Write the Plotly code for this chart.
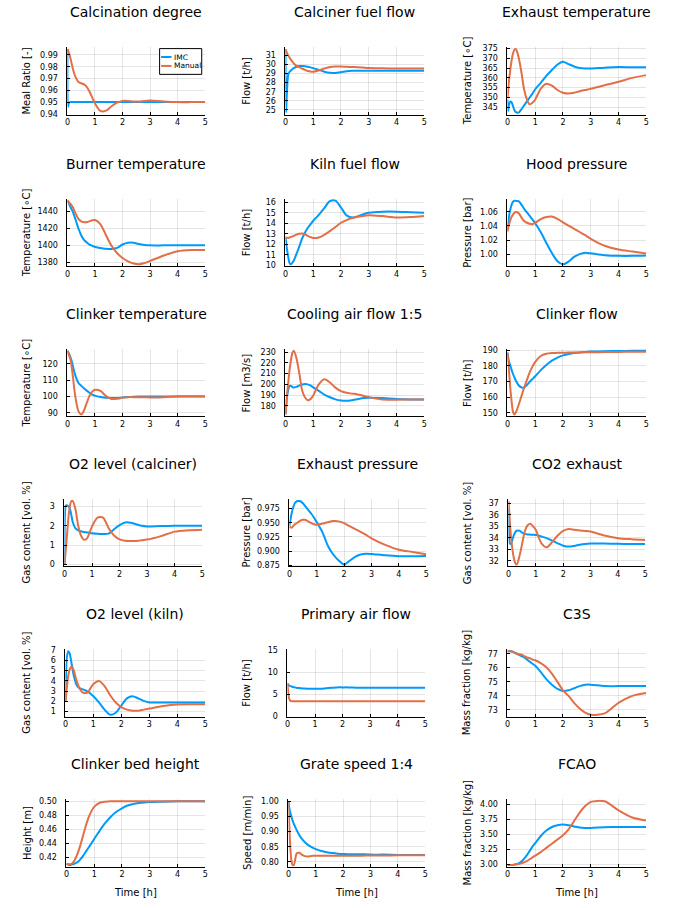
import plotly.graph_objects as go

W, H = 678, 908

# ---------------- data ----------------
T = [0, 0.02, 0.05, 0.1, 0.15, 0.2, 0.25, 0.3, 0.4, 0.5, 0.6, 0.7, 0.8, 0.9, 1.0,
     1.2, 1.4, 1.6, 1.8, 2.0, 2.2, 2.4, 2.6, 2.8, 3.0, 3.5, 4.0, 4.5, 5.0]

titles = ["Calcination degree", "Calciner fuel flow", "Exhaust temperature",
          "Burner temperature", "Kiln fuel flow", "Hood pressure",
          "Clinker temperature", "Cooling air flow 1:5", "Clinker flow",
          "O2 level (calciner)", "Exhaust pressure", "CO2 exhaust",
          "O2 level (kiln)", "Primary air flow", "C3S",
          "Clinker bed height", "Grate speed 1:4", "FCAO"]

ylabels = ["Meal Ratio [-]", "Flow [t/h]", "Temperature [∘C]",
           "Temperature [∘C]", "Flow [t/h]", "Pressure [bar]",
           "Temperature [∘C]", "Flow [m3/s]", "Flow [t/h]",
           "Gas content [vol. %]", "Pressure [bar]", "Gas content [vol. %]",
           "Gas content [vol. %]", "Flow [t/h]", "Mass fraction [kg/kg]",
           "Height [m]", "Speed [m/min]", "Mass fraction [kg/kg]"]

series_names = ["IMC", "Manual"]

calc_imc = [0.995, 0.9460, 0.9490, 0.950, 0.950, 0.950, 0.950, 0.950, 0.950, 0.950, 0.950, 0.950,
            0.950, 0.950, 0.950, 0.950, 0.950, 0.950, 0.950, 0.950, 0.950, 0.950, 0.950, 0.950,
            0.950, 0.950, 0.950, 0.950, 0.950]
calc_man = [0.995, 0.994, 0.992, 0.988, 0.983, 0.978, 0.974, 0.971, 0.967, 0.966, 0.965, 0.963,
            0.959, 0.954, 0.949, 0.9425, 0.9428, 0.9465, 0.9495, 0.951, 0.951, 0.9505, 0.9505,
            0.951, 0.9513, 0.9505, 0.950, 0.950, 0.950]

cfuel_imc = [31.7, 24.7, 26.8, 28.9, 29.2, 29.35, 29.5, 29.6, 29.75, 29.82, 29.83, 29.8, 29.75,
             29.68, 29.6, 29.4, 29.2, 29.08, 29.07, 29.15, 29.25, 29.3, 29.3, 29.3, 29.3, 29.3,
             29.3, 29.3, 29.3]
cfuel_man = [31.65, 31.5, 31.3, 31.0, 30.75, 30.5, 30.3, 30.1, 29.85, 29.7, 29.55, 29.4, 29.28,
             29.22, 29.2, 29.35, 29.55, 29.72, 29.78, 29.77, 29.74, 29.72, 29.7, 29.66, 29.62,
             29.58, 29.55, 29.55, 29.55]

extemp_imc = [349, 343, 346, 348, 347.5, 345.5, 343.5, 342.5, 342.3, 344, 346, 348, 350, 352,
              354.2, 357.5, 361, 364, 366.8, 368.2, 367, 365.8, 365, 364.8, 364.8, 365.2,
              365.5, 365.4, 365.4]
extemp_man = [349.5, 353, 358, 364, 369, 372.5, 374.3, 374.7, 370.5, 363, 354, 349, 346.5,
              347.3, 349, 354.5, 357, 356, 353.8, 352.4, 352, 352.4, 353.2, 353.8, 354.4,
              356.2, 358, 360, 361.4]

burner_imc = [1453, 1452, 1450, 1446, 1443, 1439.5, 1435, 1430, 1420, 1412, 1406.5, 1403.5,
              1401, 1399.5, 1398, 1397, 1396, 1395.8, 1397, 1401, 1403.2, 1403.2, 1401.5,
              1400.5, 1400, 1400, 1400, 1400, 1400]
burner_man = [1453, 1452.5, 1451.5, 1449.5, 1447.5, 1445, 1441, 1437.5, 1431.5, 1428.5,
              1427.5, 1427.5, 1428.5, 1429.8, 1430, 1425, 1412, 1399.5, 1391, 1385, 1381,
              1378.5, 1377.6, 1379, 1381.5, 1388, 1393, 1394.5, 1394.5]

kfuel_imc = [12.7, 12.3, 11.6, 10.8, 10.2, 10.1, 10.25, 10.45, 11.1, 11.8, 12.55, 13.1, 13.55,
             13.9, 14.24, 14.8, 15.45, 16.1, 16.15, 15.5, 14.75, 14.56, 14.65, 14.85, 15.0,
             15.1, 15.1, 15.05, 15.0]
kfuel_man = [12.65, 12.63, 12.62, 12.6, 12.65, 12.7, 12.75, 12.8, 12.92, 13.0, 13.03, 12.95,
             12.8, 12.68, 12.6, 12.65, 12.9, 13.25, 13.65, 14.05, 14.3, 14.5, 14.62, 14.7,
             14.76, 14.68, 14.56, 14.6, 14.7]

hood_imc = [1.034, 1.042, 1.052, 1.063, 1.070, 1.074, 1.0755, 1.0752, 1.0748, 1.070, 1.064,
            1.059, 1.054, 1.049, 1.0438, 1.031, 1.016, 1.002, 0.9905, 0.9862, 0.990, 0.9965,
            1.0005, 1.0023, 1.0015, 0.999, 0.998, 0.998, 0.9986]
hood_man = [1.032, 1.036, 1.041, 1.048, 1.053, 1.056, 1.0585, 1.0595, 1.058, 1.052, 1.047,
            1.0445, 1.043, 1.0425, 1.0445, 1.0495, 1.0525, 1.0532, 1.050, 1.045, 1.0405,
            1.036, 1.0315, 1.027, 1.022, 1.0122, 1.0068, 1.004, 1.0014]

ctemp_imc = [128, 127.5, 126.5, 124.5, 122, 118.5, 115, 112.2, 108.3, 106.6, 105, 103.6,
             102.3, 101.2, 100.5, 99.7, 99.2, 99.0, 99.1, 99.4, 99.7, 99.9, 100, 100, 100,
             100, 100, 100, 100]
ctemp_man = [128, 127, 125.5, 123.5, 118.5, 112, 104.5, 98.5, 91, 89, 91.4, 96, 100.4, 103,
             104.1, 103.4, 100.2, 98.5, 98.6, 99.3, 99.6, 99.6, 99.6, 99.5, 99.4, 99.5, 100.1,
             100.2, 100.2]

cool_imc = [172, 178, 187, 195, 198.5, 198.5, 197.5, 197, 197.8, 199, 199.8, 200.3, 200, 199,
            197.3, 194, 190.5, 188, 186, 184.9, 184.7, 185.3, 186.2, 187.2, 187.5, 187.2,
            186.3, 186, 186]
cool_man = [172, 178, 188, 202, 214, 223, 229.5, 231.3, 224, 210, 194.5, 188, 185.3, 186.3,
            189.7, 200, 204.7, 201.8, 197, 193.8, 192.2, 191.4, 190.6, 189.4, 188.2, 185.8,
            185.8, 186, 186]

cflow_imc = [188.5, 186, 183, 180.3, 177.3, 174.8, 172.6, 170.6, 167.6, 166.3, 166.1, 167.8,
             169.8, 171.6, 173.4, 177.3, 180.6, 183.3, 185.3, 186.7, 187.6, 188.2, 188.6,
             188.9, 189.1, 189.4, 189.5, 189.6, 189.6]
cflow_man = [188.5, 184, 178, 166, 157, 150.5, 149, 150.2, 155, 160.5, 166, 171, 175.8, 179.5,
             182.5, 186.3, 187.7, 188.2, 188.3, 188.4, 188.5, 188.6, 188.6, 188.7, 188.7,
             188.8, 188.9, 189, 189]

o2c_imc = [0, 2.6, 3.05, 3.05, 3.0, 2.88, 2.55, 2.2, 1.87, 1.77, 1.72, 1.68, 1.66, 1.64, 1.62,
           1.59, 1.58, 1.6, 1.82, 2.04, 2.17, 2.16, 2.08, 2.0, 1.97, 1.99, 2.0, 2.0, 2.0]
o2c_man = [0, 0.3, 0.8, 1.65, 2.5, 3.05, 3.28, 3.28, 2.85, 2.0, 1.5, 1.29, 1.32, 1.6, 1.97,
           2.42, 2.42, 1.89, 1.5, 1.3, 1.23, 1.22, 1.22, 1.25, 1.29, 1.47, 1.7, 1.77, 1.8]

expr_imc = [0.945, 0.951, 0.959, 0.971, 0.979, 0.985, 0.9875, 0.9885, 0.988, 0.984, 0.978,
            0.972, 0.966, 0.959, 0.951, 0.934, 0.910, 0.894, 0.8835, 0.8762, 0.883, 0.890,
            0.894, 0.8955, 0.895, 0.8925, 0.891, 0.891, 0.8915]
expr_man = [0.944, 0.943, 0.9415, 0.942, 0.945, 0.9475, 0.949, 0.9505, 0.954, 0.9553, 0.955,
            0.952, 0.9495, 0.9475, 0.9465, 0.9485, 0.951, 0.953, 0.9525, 0.9495, 0.944,
            0.939, 0.934, 0.9285, 0.9225, 0.911, 0.9025, 0.8985, 0.8945]

co2_imc = [36.5, 34.5, 33.5, 33.5, 33.9, 34.25, 34.5, 34.62, 34.63, 34.45, 34.35, 34.3, 34.28,
           34.27, 34.25, 34.12, 33.98, 33.75, 33.52, 33.32, 33.24, 33.3, 33.4, 33.47, 33.5,
           33.5, 33.48, 33.47, 33.47]
co2_man = [37.2, 36.6, 35.4, 33.9, 32.9, 32.2, 31.8, 31.68, 32.4, 33.5, 34.6, 35.1, 35.22,
           35.0, 34.68, 33.55, 33.18, 33.65, 34.2, 34.6, 34.76, 34.7, 34.63, 34.6, 34.55,
           34.2, 33.97, 33.88, 33.82]

o2k_imc = [2.0, 4.5, 6.3, 6.9, 6.7, 6.0, 5.2, 4.5, 3.6, 3.3, 3.2, 3.1, 2.95, 2.75, 2.5, 1.9,
           1.2, 0.7, 0.9, 1.6, 2.3, 2.5, 2.3, 2.05, 1.9, 1.9, 1.9, 1.9, 1.9]
o2k_man = [2.0, 2.5, 3.3, 4.5, 5.1, 5.35, 5.3, 5.0, 4.0, 3.3, 2.9, 2.8, 2.9, 3.3, 3.7, 4.0,
           3.5, 2.6, 1.9, 1.45, 1.2, 1.1, 1.1, 1.2, 1.3, 1.55, 1.7, 1.72, 1.72]

pair_imc = [7.5, 7.3, 7.1, 6.9, 6.8, 6.7, 6.6, 6.55, 6.45, 6.4, 6.35, 6.3, 6.3, 6.28, 6.27,
            6.3, 6.4, 6.5, 6.6, 6.6, 6.6, 6.55, 6.5, 6.5, 6.5, 6.5, 6.5, 6.5, 6.5]
pair_man = [7.5, 6.0, 4.3, 3.6, 3.5, 3.5, 3.5, 3.5, 3.5, 3.5, 3.5, 3.5, 3.5, 3.5, 3.5, 3.5,
            3.5, 3.5, 3.5, 3.5, 3.5, 3.5, 3.5, 3.5, 3.5, 3.5, 3.5, 3.5, 3.5]

c3s_imc = [77.2, 77.2, 77.2, 77.2, 77.18, 77.15, 77.1, 77.05, 76.95, 76.85, 76.75, 76.6,
           76.45, 76.3, 76.15, 75.7, 75.2, 74.8, 74.5, 74.35, 74.4, 74.55, 74.7, 74.8, 74.8,
           74.7, 74.7, 74.7, 74.7]
c3s_man = [77.2, 77.2, 77.2, 77.2, 77.2, 77.15, 77.1, 77.05, 77.0, 76.95, 76.85, 76.75, 76.7,
           76.6, 76.55, 76.35, 76.05, 75.6, 75.0, 74.4, 74.0, 73.5, 73.1, 72.8, 72.65, 72.75,
           73.5, 74.0, 74.2]

bed_imc = [0.411, 0.410, 0.410, 0.409, 0.409, 0.410, 0.410, 0.411, 0.413, 0.417, 0.422,
           0.428, 0.434, 0.440, 0.446, 0.458, 0.469, 0.478, 0.485, 0.490, 0.494, 0.496,
           0.4975, 0.4985, 0.499, 0.4995, 0.500, 0.500, 0.500]
bed_man = [0.411, 0.410, 0.410, 0.410, 0.410, 0.411, 0.413, 0.416, 0.425, 0.437, 0.451,
           0.465, 0.477, 0.486, 0.492, 0.498, 0.4995, 0.500, 0.500, 0.500, 0.500, 0.500,
           0.500, 0.500, 0.500, 0.500, 0.500, 0.500, 0.500]

grate_imc = [1.0, 0.985, 0.97, 0.952, 0.937, 0.925, 0.915, 0.905, 0.888, 0.875, 0.865, 0.857,
             0.851, 0.846, 0.842, 0.836, 0.832, 0.829, 0.827, 0.826, 0.825, 0.825, 0.825,
             0.825, 0.824, 0.824, 0.823, 0.823, 0.823]
grate_man = [1.0, 0.95, 0.88, 0.81, 0.79, 0.79, 0.81, 0.828, 0.83, 0.823, 0.819, 0.818,
             0.819, 0.82, 0.82, 0.82, 0.82, 0.82, 0.82, 0.82, 0.82, 0.82, 0.82, 0.821, 0.821,
             0.821, 0.822, 0.822, 0.822]

fcao_imc = [2.985, 2.985, 2.985, 2.985, 2.985, 2.985, 2.99, 2.995, 3.01, 3.04, 3.09, 3.15,
            3.22, 3.29, 3.35, 3.47, 3.56, 3.62, 3.65, 3.66, 3.65, 3.63, 3.61, 3.605, 3.605,
            3.615, 3.62, 3.62, 3.62]
fcao_man = [2.985, 2.985, 2.985, 2.985, 2.985, 2.985, 2.99, 2.995, 3.0, 3.01, 3.03, 3.05,
            3.08, 3.11, 3.14, 3.2, 3.27, 3.34, 3.41, 3.48, 3.58, 3.72, 3.86, 3.97, 4.04, 4.05,
            3.9, 3.78, 3.73]

imc_series = [calc_imc, cfuel_imc, extemp_imc, burner_imc, kfuel_imc, hood_imc,
              ctemp_imc, cool_imc, cflow_imc, o2c_imc, expr_imc, co2_imc,
              o2k_imc, pair_imc, c3s_imc, bed_imc, grate_imc, fcao_imc]
man_series = [calc_man, cfuel_man, extemp_man, burner_man, kfuel_man, hood_man,
              ctemp_man, cool_man, cflow_man, o2c_man, expr_man, co2_man,
              o2k_man, pair_man, c3s_man, bed_man, grate_man, fcao_man]

# y tick settings: (tick0, dtick, format)
yticks = [(0.94, 0.01, ".2f"), (25, 1, "d"), (345, 5, "d"),
          (1380, 20, "d"), (10, 1, "d"), (1.00, 0.02, ".2f"),
          (90, 10, "d"), (180, 10, "d"), (150, 10, "d"),
          (0, 1, "d"), (0.875, 0.025, ".3f"), (32, 1, "d"),
          (1, 1, "d"), (0, 5, "d"), (73, 1, "d"),
          (0.42, 0.02, ".2f"), (0.80, 0.05, ".2f"), (3.0, 0.25, ".2f")]
fixed_yrange = {0: [0.9395, 0.9966], 13: [0, 15.2]}
WIDEN = 0.03   # fraction of the data span added on each side

# ---------------- layout (pixels) ----------------
row_tops = [44.5, 197.5, 349, 500.5, 652, 803.5]
plot_h = 68
xpix = [[(65, 204), (285, 425), (509, 649)],
        [(65, 204), (285, 425), (509, 649)],
        [(65, 204), (285, 425), (509, 649)],
        [(62, 201), (289, 427), (510, 648)],
        [(63, 204), (287, 426), (509, 649)],
        [(64, 204), (288, 426), (509, 649)]]
ylabel_x = [24, 246, 468.5]

BLUE = "#009AFA"
ORANGE = "#E26F46"
COLORS = [BLUE, ORANGE]
FONT = "DejaVu Sans"

fig = go.Figure()
annotations = []
shapes = []
layout = {}

for i in range(18):
    r, c = divmod(i, 3)
    suffix = "" if i == 0 else str(i + 1)
    xref, yref = "x" + suffix, "y" + suffix
    x0, x1 = xpix[r][c]
    top = row_tops[r]
    bot = top + plot_h
    dom_x = [x0 / W, x1 / W]
    dom_y = [1 - bot / H, 1 - top / H]

    for name, data, col in ((series_names[0], imc_series[i], COLORS[0]),
                            (series_names[1], man_series[i], COLORS[1])):
        fig.add_trace(go.Scatter(
            x=T, y=data, mode="lines", name=name, xaxis=xref, yaxis=yref,
            line=dict(color=col, width=2, shape="spline", smoothing=0.8),
            showlegend=False, hoverinfo="skip"))

    allv = imc_series[i] + man_series[i]
    lo, hi = min(allv), max(allv)
    pad = WIDEN * (hi - lo)
    yr = fixed_yrange.get(i, [lo - pad, hi + pad])
    t0, dt, fmt = yticks[i]

    common = dict(showgrid=True, gridcolor="rgba(0,0,0,0.1)", gridwidth=1,
                  zeroline=False, showline=True, linecolor="black", linewidth=1,
                  ticks="inside", ticklen=3, tickwidth=1, tickcolor="black",
                  tickfont=dict(size=8, family=FONT, color="black"),
                  mirror=False)
    layout["xaxis" + suffix] = dict(domain=dom_x, anchor=yref, range=[0, 5],
                                    tick0=0, dtick=1, **common)
    layout["yaxis" + suffix] = dict(domain=dom_y, anchor=xref, range=yr,
                                    tick0=t0, dtick=dt, tickformat=fmt,
                                    ticklabelstandoff=7, **common)

    annotations.append(dict(text=titles[i], x=(x0 + x1) / 2 / W, y=1 - (top - 35.5) / H,
                            xref="paper", yref="paper", showarrow=False,
                            xanchor="center", yanchor="middle",
                            font=dict(size=14, family=FONT, color="black")))
    annotations.append(dict(text=ylabels[i], x=ylabel_x[c] / W, y=1 - (top + plot_h / 2) / H,
                            xref="paper", yref="paper", showarrow=False, textangle=-90,
                            xanchor="center", yanchor="middle",
                            font=dict(size=10, family=FONT, color="black")))
    if r == 5:
        annotations.append(dict(text="Time [h]", x=(x0 + x1) / 2 / W, y=1 - 897 / H,
                                xref="paper", yref="paper", showarrow=False,
                                xanchor="center", yanchor="middle",
                                font=dict(size=10, family=FONT, color="black")))

# legend box inside first panel (top right), drawn in paper space
lg_x0, lg_x1, lg_y0, lg_y1 = 158, 200.5, 46, 72
shapes.append(dict(type="rect", xref="paper", yref="paper",
                   x0=lg_x0 / W, x1=lg_x1 / W, y0=1 - lg_y1 / H, y1=1 - lg_y0 / H,
                   line=dict(color="black", width=1), fillcolor="white", layer="above"))
for k, name in enumerate(series_names):
    yy = 1 - (54.5 + 9 * k) / H
    shapes.append(dict(type="line", xref="paper", yref="paper",
                       x0=159.5 / W, x1=170 / W, y0=yy, y1=yy,
                       line=dict(color=COLORS[k], width=2), layer="above"))
    annotations.append(dict(text=name, x=170.5 / W, y=yy, xref="paper", yref="paper",
                            showarrow=False, xanchor="left", yanchor="middle",
                            font=dict(size=7.5, family=FONT, color="black")))

fig.update_layout(
    width=W, height=H, margin=dict(l=0, r=0, t=0, b=0),
    paper_bgcolor="white", plot_bgcolor="white",
    annotations=annotations, shapes=shapes, showlegend=False,
    **layout)

fig.write_html("out.html")
